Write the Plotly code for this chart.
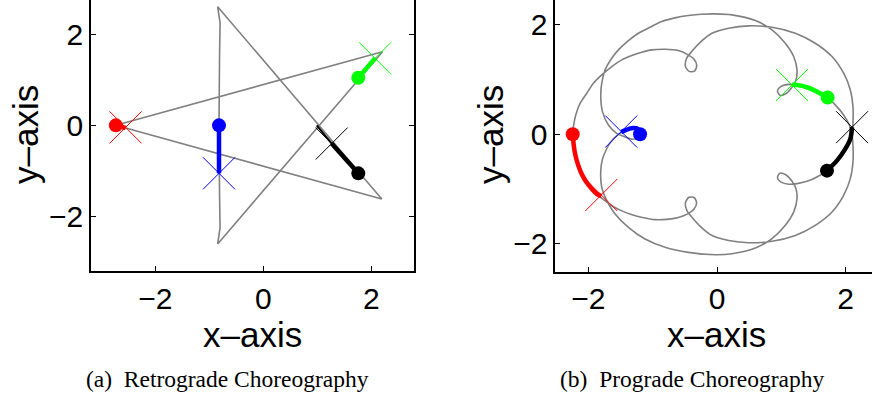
import plotly.graph_objects as go

# ---------------- (a) Retrograde choreography ----------------
retro_orbit_x = [-2.73, 2.207, -0.845, -0.80, -0.81, -0.82, -0.81, -0.80, -0.845, 2.194, -2.73]
retro_orbit_y = [0.0, 1.616, -2.603, -2.25, -1.5, 0.0, 1.5, 2.25, 2.603, -1.616, 0.0]

retro_colors = ["#ff0000", "#0000ff", "#00ff00", "#000000"]
retro_dot_x = [-2.73, -0.82, 1.759, 1.759]
retro_dot_y = [0.0, 0.0, 1.045, -1.053]
retro_cross_x = [-2.55, -0.82, 2.07, 1.266]
retro_cross_y = [-0.045, -1.053, 1.47, -0.40]
retro_trail_x = [[-2.73, -2.55], [-0.82, -0.82], [1.759, 2.07], [1.759, 1.266]]
retro_trail_y = [[0.0, -0.058], [0.0, -1.053], [1.045, 1.47], [-1.053, -0.40]]
retro_tail_x = [1.266, 0.99]
retro_tail_y = [-0.40, 0.0]

# ---------------- (b) Prograde choreography ----------------
pro_orbit_x = [2.10, 2.114, 2.114, 2.073, 1.969, 1.788, 1.528, 1.218, 0.855, 0.492, 0.181,
               -0.078, -0.238, -0.394, -0.472, -0.492, -0.435, -0.350, -0.316, -0.360, -0.456,
               -0.601, -0.808, -1.016, -1.171, -1.326, -1.482, -1.637, -1.793, -1.922, -2.026,
               -2.130, -2.197, -2.233, -2.244, -2.233, -2.210, -2.160, -2.090, -1.990, -1.870,
               -1.760, -1.630, -1.480, -1.320, -1.160, -0.964, -0.780, -0.601, -0.456, -0.360,
               -0.318, -0.352, -0.435, -0.490, -0.470, -0.390, -0.240, -0.078, 0.181, 0.492,
               0.855, 1.218, 1.528, 1.788, 1.969, 2.073, 2.114, 2.114, 2.098, 2.057, 1.969,
               1.839, 1.720, 1.554, 1.399, 1.244, 1.114, 0.995, 0.940, 0.980, 1.075, 1.166,
               1.228, 1.244, 1.192, 1.062, 0.855, 0.596, 0.233, -0.031, -0.238, -0.446, -0.653,
               -0.860, -1.041, -1.223, -1.378, -1.534, -1.637, -1.741, -1.793, -1.808, -1.782,
               -1.689, -1.560, -1.440, -1.311, -1.218, -1.187, -1.233, -1.337, -1.440, -1.544,
               -1.648, -1.725, -1.780, -1.808, -1.793, -1.715, -1.585, -1.378, -1.119, -0.808,
               -0.446, -0.031, 0.233, 0.596, 0.855, 1.062, 1.192, 1.244, 1.228, 1.166, 1.075,
               0.980, 0.940, 0.995, 1.114, 1.244, 1.399, 1.554, 1.710, 1.865, 1.995, 2.073, 2.10]
pro_orbit_y = [0.000, 0.201, 0.506, 0.811, 1.116, 1.421, 1.665, 1.848, 1.957, 1.982, 1.939,
               1.848, 1.707, 1.512, 1.390, 1.245, 1.150, 1.155, 1.256, 1.375, 1.457,
               1.530, 1.555, 1.543, 1.500, 1.439, 1.360, 1.238, 1.085, 0.933, 0.750,
               0.567, 0.354, 0.140, 0.000, -0.150, -0.340, -0.560, -0.760, -0.940, -1.090,
               -1.200, -1.310, -1.400, -1.470, -1.520, -1.560, -1.555, -1.520, -1.455, -1.372,
               -1.260, -1.160, -1.152, -1.245, -1.390, -1.515, -1.705, -1.850, -1.940, -1.982,
               -1.955, -1.848, -1.665, -1.421, -1.116, -0.811, -0.506, -0.201, 0.000, 0.171, 0.354,
               0.537, 0.671, 0.780, 0.860, 0.902, 0.912, 0.875, 0.795, 0.712, 0.745, 0.860,
               0.994, 1.177, 1.421, 1.665, 1.909, 2.079, 2.183, 2.201, 2.195, 2.171, 2.128,
               2.061, 1.957, 1.848, 1.713, 1.543, 1.390, 1.177, 0.933, 0.689, 0.415,
               0.171, 0.018, -0.043, -0.091, -0.055, 0.018, 0.098, 0.110, 0.067, -0.012,
               -0.134, -0.287, -0.450, -0.665, -0.970, -1.213, -1.457, -1.701, -1.915, -2.067,
               -2.159, -2.201, -2.183, -2.079, -1.909, -1.665, -1.421, -1.177, -0.994, -0.860, -0.745,
               -0.712, -0.795, -0.875, -0.912, -0.902, -0.860, -0.780, -0.665, -0.482, -0.268, -0.085, 0.000]

pro_colors = ["#ff0000", "#0000ff", "#00ff00", "#000000"]
pro_dot_x = [-2.244, -1.197, 1.720, 1.710]
pro_dot_y = [0.0, 0.0, 0.671, -0.665]
pro_cross_x = [-1.80, -1.49, 1.166, 2.10]
pro_cross_y = [-1.11, 0.05, 0.902, 0.13]
pro_trail_x = [[-2.244, -2.233, -2.210, -2.160, -2.090, -1.990, -1.870, -1.80],
               [-1.49, -1.440, -1.337, -1.233, -1.197],
               [1.166, 1.244, 1.399, 1.554, 1.720],
               [1.710, 1.865, 1.995, 2.073, 2.10]]
pro_trail_y = [[0.0, -0.150, -0.340, -0.560, -0.760, -0.940, -1.090, -1.13],
               [0.04, 0.067, 0.110, 0.098, 0.0],
               [0.905, 0.902, 0.860, 0.780, 0.671],
               [-0.665, -0.482, -0.268, -0.085, 0.13]]

tick_vals = [-2, 0, 2]
tick_text = ["\u22122", "0", "2"]
axis_title_x = "x\u2013axis"
axis_title_y = "y\u2013axis"
caption_a = "(a)\u00a0\u00a0Retrograde Choreography"
caption_b = "(b)\u00a0\u00a0Prograde Choreography"

GRAY = "#808080"
fig = go.Figure()

# ---- panel (a)
fig.add_trace(go.Scatter(x=retro_orbit_x, y=retro_orbit_y, mode="lines",
                         line=dict(color=GRAY, width=1.6), xaxis="x", yaxis="y", hoverinfo="skip"))
for i, c in enumerate(retro_colors):
    fig.add_trace(go.Scatter(x=retro_trail_x[i], y=retro_trail_y[i], mode="lines",
                             line=dict(color=c, width=4.5), xaxis="x", yaxis="y"))
fig.add_trace(go.Scatter(x=retro_tail_x, y=retro_tail_y, mode="lines",
                         line=dict(color="#000000", width=2), xaxis="x", yaxis="y"))
fig.add_trace(go.Scatter(x=retro_dot_x, y=retro_dot_y, mode="markers",
                         marker=dict(color=retro_colors, size=14, line=dict(width=0)),
                         xaxis="x", yaxis="y"))
fig.add_trace(go.Scatter(x=retro_cross_x, y=retro_cross_y, mode="markers",
                         marker=dict(symbol="x-thin-open", size=32, color=retro_colors,
                                     line=dict(color=retro_colors, width=1)),
                         xaxis="x", yaxis="y"))

# ---- panel (b)
fig.add_trace(go.Scatter(x=pro_orbit_x, y=pro_orbit_y, mode="lines",
                         line=dict(color=GRAY, width=1.6, shape="spline", smoothing=0.8),
                         xaxis="x2", yaxis="y2", hoverinfo="skip"))
for i, c in enumerate(pro_colors):
    fig.add_trace(go.Scatter(x=pro_trail_x[i], y=pro_trail_y[i], mode="lines",
                             line=dict(color=c, width=4.5, shape="spline", smoothing=0.8),
                             xaxis="x2", yaxis="y2"))
fig.add_trace(go.Scatter(x=pro_dot_x, y=pro_dot_y, mode="markers",
                         marker=dict(color=pro_colors, size=14, line=dict(width=0)),
                         xaxis="x2", yaxis="y2"))
fig.add_trace(go.Scatter(x=pro_cross_x, y=pro_cross_y, mode="markers",
                         marker=dict(symbol="x-thin-open", size=32, color=pro_colors,
                                     line=dict(color=pro_colors, width=1)),
                         xaxis="x2", yaxis="y2"))

SANS = "Liberation Sans, Arial, Helvetica"
tickfont = dict(family=SANS, size=30, color="black")
titlefont = dict(family=SANS, size=35, color="black")
capfont = dict(family="Liberation Serif, Times New Roman", size=23.5, color="black")

def ax(domain, rng, anchor, mirror):
    return dict(domain=domain, range=rng, anchor=anchor, showgrid=False, zeroline=False,
                showline=True, linecolor="black", linewidth=1.5, mirror=mirror,
                ticks="inside", ticklen=5, tickwidth=1, tickcolor="black",
                tickvals=tick_vals, ticktext=tick_text, tickfont=tickfont,
                automargin=False, fixedrange=True)

W, H = 872, 398

def ann(text, px, py, font, angle=0):
    return dict(text=text, x=px / W, y=1 - py / H, xref="paper", yref="paper",
                xanchor="center", yanchor="middle", showarrow=False, font=font,
                textangle=angle)

fig.update_layout(
    width=W, height=H, margin=dict(l=0, r=0, t=0, b=0),
    paper_bgcolor="white", plot_bgcolor="white", showlegend=False,
    xaxis=ax([91 / W, 413.7 / W], [-3.19, 2.785], "y", False),
    yaxis=ax([127 / H, 1.0], [-3.196, 2.75], "x", "ticks"),
    xaxis2=ax([555.3 / W, 1.0], [-2.515, 2.41], "y2", False),
    yaxis2=ax([126.3 / H, 1.0], [-2.512, 2.455], "x2", False),
    annotations=[
        ann(axis_title_x, 252, 334, titlefont),
        ann(axis_title_x, 716, 334, titlefont),
        ann(axis_title_y, 25, 135, titlefont, -90),
        ann(axis_title_y, 490, 135, titlefont, -90),
        ann(caption_a, 227, 379, capfont),
        ann(caption_b, 692, 379, capfont),
    ],
)

fig.write_html("out.html")
